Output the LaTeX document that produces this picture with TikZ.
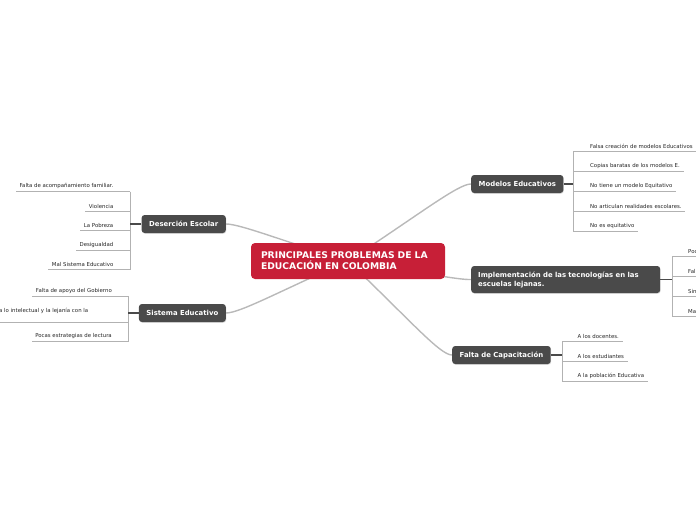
\documentclass[tikz,border=0pt]{standalone}
\usepackage{fontspec}
\setmainfont{DejaVu Sans}
\usetikzlibrary{shadows,backgrounds}
\definecolor{titlered}{RGB}{199,31,55}
\definecolor{topicgray}{RGB}{74,74,74}

\begin{document}
\begin{tikzpicture}[x=1pt, y=-1pt,
    title/.style={rectangle, rounded corners=4pt, fill=titlered, text=white,
                  font=\bfseries\fontsize{9.2}{11}\selectfont, align=left,
                  text width=174pt, minimum height=36pt, inner xsep=10pt},
    topic/.style={rectangle, rounded corners=3pt, fill=topicgray, text=white,
                  font=\bfseries\fontsize{6.9}{9}\selectfont, minimum height=18pt, inner xsep=7.5pt,
                  drop shadow={shadow xshift=0.5pt, shadow yshift=-0.8pt, opacity=0.25}},
    leaf/.style={font=\fontsize{5.4}{6.5}\selectfont, text=black!85, inner xsep=3.5pt, inner ysep=2.5pt},
    link/.style={draw=gray!55, line width=1.4pt},
    stub/.style={draw=topicgray, line width=1.2pt},
    rail/.style={draw=gray!60, line width=0.6pt}
]
    \useasboundingbox (0,0) rectangle (696,520);

    % centre and main branches
    \node[title] (main) at (348,261) {PRINCIPALES PROBLEMAS DE LA\\EDUCACIÓN EN COLOMBIA};
    \node[topic, anchor=east] (desercion) at (226,224) {Deserción Escolar};
    \node[topic, anchor=east] (sistema) at (226,313) {Sistema Educativo};
    \node[topic, anchor=west] (modelos) at (471,184) {Modelos Educativos};
    \node[topic, anchor=west, align=left, text width=175pt, minimum height=27pt, inner xsep=7pt]
        (tecnologias) at (471,279.5) {Implementación de las tecnologías en las\\escuelas lejanas.};
    \node[topic, anchor=west] (capacitacion) at (452,355) {Falta de Capacitación};

    \begin{scope}[on background layer]
        \draw[link] (main.center) .. controls (280,240) and (240,224) .. (desercion.east);
        \draw[link] (main.center) .. controls (280,291) and (240,313) .. (sistema.east);
        \draw[link] (main.center) .. controls (420,214) and (458,184) .. (modelos.west);
        \draw[link] (main.center) .. controls (420,272) and (458,280) .. (tecnologias.west);
        \draw[link] (main.center) .. controls (410,320) and (440,355) .. (capacitacion.west);
    \end{scope}

    % Deserción Escolar
    \foreach \txt [count=\i] in {Falta de acompañamiento familiar., Violencia, La Pobreza,
                                 Desigualdad, Mal Sistema Educativo} {
        \coordinate (desb\i) at (130, 172+19.5*\i);
        \node[leaf, anchor=south east] (des\i) at (117, 172+19.5*\i) {\txt};
        \draw[rail] (desb\i) -- (des\i.south west);
    }
    \draw[rail] (desb1) -- (desb5);
    \draw[stub] (desercion.west) -- (desercion.west -| desb1);

    % Sistema Educativo
    \coordinate (sisb1) at (128,296);
    \coordinate (sisb2) at (128,322.7);
    \coordinate (sisb3) at (128,341.7);
    \node[leaf, anchor=south east] (sis1) at (115.5,296) {Falta de apoyo del Gobierno};
    \node[leaf, anchor=south west, text depth=8pt] (sis2) at (-4.5,322.7) {a lo intelectual y la lejanía con la};
    \node[leaf, anchor=south east] (sis3) at (115.5,341.7) {Pocas estrategias de lectura};
    \foreach \i in {1,2,3} {
        \draw[rail] (sisb\i) -- (sis\i.south west);
    }
    \draw[rail] (sisb1) -- (sisb3);
    \draw[stub] (sistema.west) -- (sistema.west -| sisb1);

    % Modelos Educativos
    \foreach \txt [count=\i] in {Falsa creación de modelos Educativos, Copias baratas de los modelos E.,
                                 No tiene un modelo Equitativo, No articulan realidades escolares.,
                                 No es equitativo} {
        \coordinate (modb\i) at (573, 131+20*\i);
        \node[leaf, anchor=south west] (mod\i) at (586.5, 131+20*\i) {\txt};
        \draw[rail] (modb\i) -- (mod\i.south east);
    }
    \draw[rail] (modb1) -- (modb5);
    \draw[stub] (modelos.east) -- (modelos.east -| modb1);

    % Implementación de las tecnologías
    \foreach \txt [count=\i] in {Poc, Fal, Sin, Ma} {
        \coordinate (tecb\i) at (672, 237+19.7*\i);
        \node[leaf, anchor=south west] (tec\i) at (684.5, 237+19.7*\i) {\txt};
        \draw[rail] (tecb\i) -- (tec\i.south east);
    }
    \draw[rail] (tecb1) -- (tecb4);
    \draw[stub] (tecnologias.east) -- (tecnologias.east -| tecb1);

    % Falta de Capacitación
    \foreach \txt [count=\i] in {A los docentes., A los estudiantes, A la población Educativa} {
        \coordinate (capb\i) at (562, 321+20*\i);
        \node[leaf, anchor=south west] (cap\i) at (574, 321+20*\i) {\txt};
        \draw[rail] (capb\i) -- (cap\i.south east);
    }
    \draw[rail] (capb1) -- (capb3);
    \draw[stub] (capacitacion.east) -- (capacitacion.east -| capb1);
\end{tikzpicture}
\end{document}
